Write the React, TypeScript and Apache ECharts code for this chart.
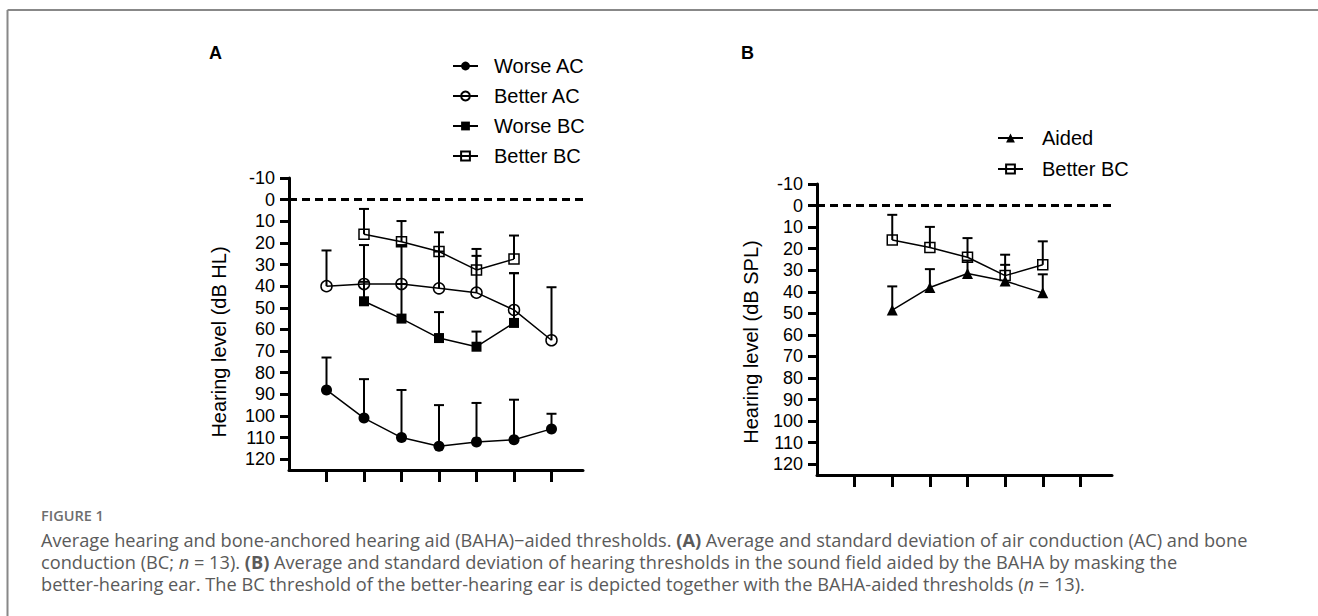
import React, { useEffect, useRef } from "react";
import * as echarts from "echarts";

// ---- data ----
const xTicks = [1, 2, 3, 4, 5, 6, 7];
const yTicks = [-10, 0, 10, 20, 30, 40, 50, 60, 70, 80, 90, 100, 110, 120];

const acX = [1, 2, 3, 4, 5, 6, 7];
const worseAC = [88, 101, 110, 114, 112, 111, 106];
const worseACsd = [15, 18, 22, 19, 18, 18.5, 7];
const betterAC = [40, 39, 39, 41, 43, 51, 65];
const betterACsd = [16.5, 18, 18, 17, 17, 17, 24.5];

const bcX = [2, 3, 4, 5, 6];
const worseBC = [47, 55, 64, 68, 57];
const worseBCsd = [9, 16, 12, 7, 23];
const betterBC = [16, 19.5, 24, 32.5, 27.5];
const betterBCsd = [11.7, 9.6, 8.9, 9.7, 10.9];

const aidedX = [2, 3, 4, 5, 6];
const aided = [48.5, 38, 31.5, 35, 40.5];
const aidedSd = [11, 8.5, 6, 7.5, 8.6];

const legendA = ["Worse AC", "Better AC", "Worse BC", "Better BC"];
const legendB = ["Aided", "Better BC"];

const FONT = "Liberation Sans, Arial, sans-serif";
const CAP_FONT = "Open Sans, Noto Sans, sans-serif";

const pts = (xs: number[], ys: number[]) => xs.map((x, i) => [x, ys[i]]);
const errs = (xs: number[], ys: number[], sds: number[]) => xs.map((x, i) => [x, ys[i], sds[i]]);

function lineSeries(name: string, xs: number[], ys: number[], symbol: string, filled: boolean, gi: number, size = 11, extra: any = {}) {
  return {
    type: "line",
    name,
    xAxisIndex: gi,
    yAxisIndex: gi,
    data: pts(xs, ys),
    symbol,
    symbolSize: size,
    showSymbol: true,
    z: 4,
    lineStyle: { color: "#000", width: 1.5 },
    itemStyle: filled
      ? { color: "#000", borderColor: "#000", borderWidth: 0 }
      : { color: "rgba(255,255,255,0)", borderColor: "#000", borderWidth: 1.5 },
    emphasis: { disabled: true },
    ...extra,
  };
}

function errSeries(name: string, xs: number[], ys: number[], sds: number[], gi: number) {
  return {
    type: "custom",
    name,
    xAxisIndex: gi,
    yAxisIndex: gi,
    silent: true,
    z: 3,
    data: errs(xs, ys, sds),
    encode: { x: 0, y: 1 },
    renderItem: (params: any, api: any) => {
      const x = api.value(0);
      const y = api.value(1);
      const sd = api.value(2);
      const p = api.coord([x, y]);
      const t = api.coord([x, y - sd]);
      return {
        type: "group",
        children: [
          { type: "line", shape: { x1: p[0], y1: p[1], x2: t[0], y2: t[1] }, style: { stroke: "#000", lineWidth: 2 } },
          { type: "line", shape: { x1: t[0] - 5, y1: t[1], x2: t[0] + 5, y2: t[1] }, style: { stroke: "#000", lineWidth: 2 } },
        ],
      };
    },
  };
}

const zeroLine = {
  silent: true,
  symbol: ["none", "none"],
  label: { show: false },
  emphasis: { disabled: true },
  lineStyle: { color: "#000", type: [8, 5], width: 3 },
  data: [{ yAxis: 0 }],
};

function xAxis(gi: number) {
  return {
    type: "value",
    gridIndex: gi,
    min: 0,
    max: 7.84,
    splitLine: { show: false },
    axisLine: { show: true, onZero: false, lineStyle: { color: "#000", width: 3 } },
    axisTick: { show: true, customValues: xTicks, length: 12, lineStyle: { color: "#000", width: 3 } },
    axisLabel: { show: false },
  };
}

function yAxis(gi: number) {
  return {
    type: "value",
    gridIndex: gi,
    inverse: true,
    min: -10,
    max: 125,
    splitLine: { show: false },
    axisLine: { show: true, onZero: false, lineStyle: { color: "#000", width: 3 } },
    axisTick: { show: true, customValues: yTicks, length: 9, lineStyle: { color: "#000", width: 3 } },
    axisLabel: { show: true, customValues: yTicks, margin: 14, color: "#000", fontSize: 18, fontFamily: FONT },
  };
}

const CAP_SIZE = 18.2;
const capStyleBase = { fontFamily: CAP_FONT, fontSize: CAP_SIZE, fill: "#5a5a5a" };
const rich = {
  b: { fontFamily: CAP_FONT, fontSize: CAP_SIZE, fontWeight: "bold", color: "#5a5a5a" },
  i: { fontFamily: CAP_FONT, fontSize: CAP_SIZE, fontStyle: "italic", color: "#5a5a5a" },
};

function capLine(text: string, y: number) {
  return {
    type: "text",
    x: 41,
    y,
    style: { ...capStyleBase, text, rich, verticalAlign: "middle", align: "left" },
  };
}

export default function App() {
  const ref = useRef<HTMLDivElement>(null);
  useEffect(() => {
    if (!ref.current) return;
    const chart = echarts.init(ref.current, undefined, { renderer: "svg" });
    const legendTextA = { fontFamily: FONT, fontSize: 20, color: "#000", padding: [0, 0, 0, 11] };
    const legendTextB = { fontFamily: FONT, fontSize: 20, color: "#000", padding: [0, 0, 0, 14] };
    chart.setOption({
      animation: false,
      backgroundColor: "#fff",
      grid: [
        { left: 289, top: 178, width: 294, height: 292 },
        { left: 817, top: 184, width: 295, height: 291 },
      ],
      xAxis: [xAxis(0), xAxis(1)],
      yAxis: [yAxis(0), yAxis(1)],
      legend: [
        {
          data: legendA,
          orient: "vertical",
          left: 447,
          top: 51,
          itemWidth: 25,
          itemHeight: 11,
          itemGap: 10,
          selectedMode: false,
          textStyle: legendTextA,
        },
        {
          data: legendB,
          orient: "vertical",
          left: 992,
          top: 123,
          itemWidth: 25,
          itemHeight: 11,
          itemGap: 11,
          selectedMode: false,
          textStyle: legendTextB,
        },
      ],
      series: [
        errSeries("eWAC", acX, worseAC, worseACsd, 0),
        errSeries("eBAC", acX, betterAC, betterACsd, 0),
        errSeries("eWBC", bcX, worseBC, worseBCsd, 0),
        errSeries("eBBC", bcX, betterBC, betterBCsd, 0),
        lineSeries("Worse AC", acX, worseAC, "circle", true, 0, 11, { markLine: zeroLine }),
        lineSeries("Better AC", acX, betterAC, "circle", false, 0, 11),
        lineSeries("Worse BC", bcX, worseBC, "rect", true, 0, 10),
        lineSeries("Better BC", bcX, betterBC, "rect", false, 0, 10),
        errSeries("eAided", aidedX, aided, aidedSd, 1),
        errSeries("eBBC2", bcX, betterBC, betterBCsd, 1),
        lineSeries("Aided", aidedX, aided, "triangle", true, 1, 11, { markLine: zeroLine }),
        lineSeries("Better BC", bcX, betterBC, "rect", false, 1, 10),
      ],
      graphic: [
        { type: "line", shape: { x1: 7.5, y1: 10, x2: 1318, y2: 10 }, style: { stroke: "#888", lineWidth: 2 } },
        { type: "line", shape: { x1: 7.5, y1: 10, x2: 7.5, y2: 616 }, style: { stroke: "#888", lineWidth: 2 } },
        { type: "text", left: 209, top: 44, style: { text: "A", fontFamily: FONT, fontSize: 18, fontWeight: "bold", fill: "#000" } },
        { type: "text", left: 741, top: 44, style: { text: "B", fontFamily: FONT, fontSize: 18, fontWeight: "bold", fill: "#000" } },
        {
          type: "text",
          x: 219,
          y: 342,
          rotation: Math.PI / 2,
          style: { text: "Hearing level (dB HL)", fontFamily: FONT, fontSize: 20, fill: "#000", align: "center", verticalAlign: "middle" },
        },
        {
          type: "text",
          x: 751,
          y: 342,
          rotation: Math.PI / 2,
          style: { text: "Hearing level (dB SPL)", fontFamily: FONT, fontSize: 20, fill: "#000", align: "center", verticalAlign: "middle" },
        },
        {
          type: "text",
          left: 41,
          top: 508,
          style: { text: "FIGURE 1", fontFamily: CAP_FONT, fontSize: 14.5, fontWeight: 600, fill: "#6e6e6e" },
        },
        capLine("Average hearing and bone-anchored hearing aid (BAHA)−aided thresholds. {b|(A)} Average and standard deviation of air conduction (AC) and bone", 540),
        capLine("conduction (BC; {i|n} = 13). {b|(B)} Average and standard deviation of hearing thresholds in the sound field aided by the BAHA by masking the", 562),
        capLine("better-hearing ear. The BC threshold of the better-hearing ear is depicted together with the BAHA-aided thresholds ({i|n} = 13).", 584),
      ],
    });
    return () => chart.dispose();
  }, []);
  return <div ref={ref} style={{ position: "absolute", left: 0, top: 0, width: 1318, height: 616 }} />;
}
